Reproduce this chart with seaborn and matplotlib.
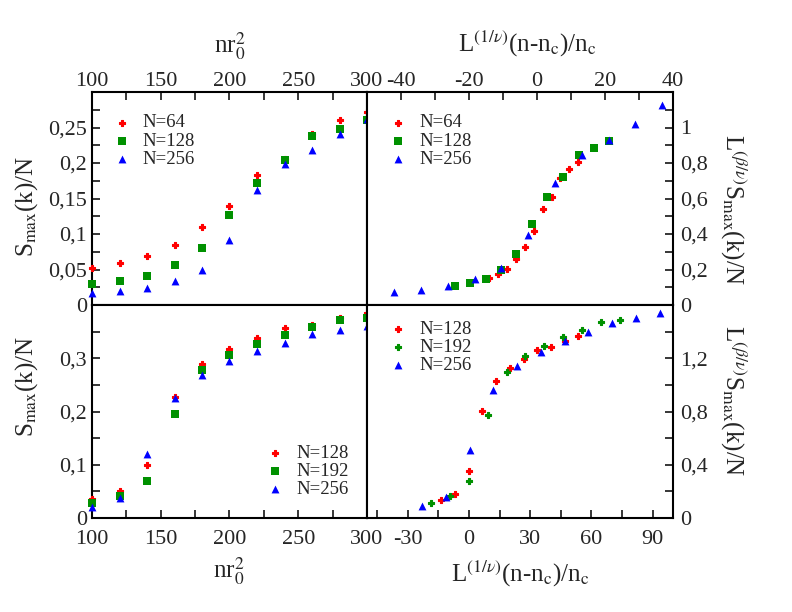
import numpy as np
import pandas as pd
import seaborn as sns
import matplotlib
matplotlib.use("Agg")
import matplotlib.pyplot as plt
from matplotlib.ticker import MultipleLocator, FixedLocator, FuncFormatter

# ------------------------------
# data
# ------------------------------
nr2 = [100, 120, 140, 160, 180, 200, 220, 240, 260, 280, 300]

# top left: S_max(k)/N vs nr0^2
tl_n64 = [0.0515, 0.0585, 0.0688, 0.0852, 0.1096, 0.140, 0.1836, 0.206, 0.241, 0.260, 0.2715]
tl_n128 = [0.029, 0.0337, 0.0407, 0.0557, 0.0796, 0.1274, 0.1723, 0.204, 0.2374, 0.248, 0.260]
tl_n256 = [0.0164, 0.020, 0.0243, 0.0337, 0.049, 0.092, 0.1615, 0.198, 0.2187, 0.2406, 0.262]

# top right: scaled collapse
tr_x64 = [-14.0, -11.4, -8.7, -6.2, -3.4, -0.9, 1.8, 4.3, 6.8, 9.5, 12.1]
tr_y64 = [0.152, 0.176, 0.202, 0.258, 0.325, 0.415, 0.543, 0.610, 0.716, 0.766, 0.807]
tr_x128 = [-24.1, -19.6, -15.0, -10.5, -6.1, -1.4, 3.0, 7.7, 12.3, 16.9, 21.3]
tr_y128 = [0.105, 0.122, 0.148, 0.198, 0.288, 0.455, 0.610, 0.723, 0.845, 0.884, 0.923]
tr_x256 = [-42.1, -34.1, -26.3, -18.3, -10.5, -2.6, 5.3, 13.1, 21.1, 28.9, 36.8]
tr_y256 = [0.074, 0.087, 0.105, 0.146, 0.208, 0.396, 0.688, 0.845, 0.932, 1.018, 1.124]

# bottom left
bl_n128 = [0.036, 0.051, 0.100, 0.228, 0.290, 0.317, 0.338, 0.356, 0.363, 0.376, 0.385]
bl_n192 = [0.028, 0.042, 0.070, 0.196, 0.277, 0.307, 0.327, 0.344, 0.358, 0.371, 0.375]
bl_n256 = [0.020, 0.038, 0.121, 0.225, 0.268, 0.295, 0.314, 0.329, 0.346, 0.353, 0.360]

# bottom right
br_x128 = [-13.7, -6.7, 0.15, 6.5, 13.4, 20.2, 27.0, 33.5, 40.3, 47.2, 53.6]
br_y128 = [0.137, 0.182, 0.352, 0.802, 1.029, 1.127, 1.192, 1.260, 1.282, 1.329, 1.367]
br_x192 = [-18.6, -9.2, 0.15, 9.5, 18.8, 27.5, 37.0, 46.2, 55.5, 64.9, 74.2]
br_y192 = [0.114, 0.164, 0.277, 0.772, 1.097, 1.217, 1.292, 1.357, 1.412, 1.470, 1.487]
br_x256 = [-23.0, -11.3, 0.3, 11.9, 23.5, 35.1, 47.1, 58.5, 70.2, 81.9, 93.5]
br_y256 = [0.092, 0.159, 0.509, 0.962, 1.139, 1.244, 1.327, 1.394, 1.467, 1.500, 1.537]

# tick labels
nr2_ticks = [100, 150, 200, 250, 300]
tl_yticks = [0, 0.05, 0.1, 0.15, 0.2, 0.25]
tr_xticks = [-40, -20, 0, 20, 40]
tr_yticks = [0, 0.2, 0.4, 0.6, 0.8, 1.0]
bl_yticks = [0, 0.1, 0.2, 0.3]
br_xticks = [-30, 0, 30, 60, 90]
br_yticks = [0, 0.4, 0.8, 1.2]

RED = "#ff0000"
GREEN = "#009100"
BLUE = "#0000ff"

# ------------------------------
# style
# ------------------------------
sns.set_style("ticks")
plt.rcParams["font.family"] = ["Liberation Serif", "DejaVu Serif"]
plt.rcParams["mathtext.fontset"] = "stix"

fig = plt.figure(figsize=(7.92, 6.12), dpi=100)
W, H = 792.0, 612.0
xl, xm, xr = 92 / W, 367 / W, 673 / W
yb, ym, yt = 1 - 518 / H, 1 - 305 / H, 1 - 92 / H

ax_tl = fig.add_axes([xl, ym, xm - xl, yt - ym])
ax_tr = fig.add_axes([xm, ym, xr - xm, yt - ym])
ax_bl = fig.add_axes([xl, yb, xm - xl, ym - yb])
ax_br = fig.add_axes([xm, yb, xr - xm, ym - yb])

comma = FuncFormatter(lambda v, p: f"{v:g}".replace(".", ","))


def pts(ax, x, y, marker, color, label, s):
    # thin edge in the same colour makes the plus look as chunky as the original
    lw = 0.8 if marker == "P" else 0
    sns.scatterplot(x=x, y=y, ax=ax, marker=marker, color=color, s=s,
                    linewidth=lw, edgecolor=color, label=label, clip_on=False, zorder=5)


def style(ax, xt, xminor, yt_, yminor, xside, yside, xlim, ylim):
    ax.set_xlim(*xlim)
    ax.set_ylim(*ylim)
    ax.xaxis.set_major_locator(FixedLocator(xt))
    ax.xaxis.set_minor_locator(MultipleLocator(xminor))
    ax.yaxis.set_major_locator(FixedLocator(yt_))
    ax.yaxis.set_minor_locator(MultipleLocator(yminor))
    ax.xaxis.set_major_formatter(comma)
    ax.yaxis.set_major_formatter(comma)
    for sp in ax.spines.values():
        sp.set_linewidth(1.5)
        sp.set_color("black")
    top = xside == "top"
    right = yside == "right"
    ax.tick_params(axis="x", which="both", direction="in", length=5.5, width=1.3,
                   top=top, bottom=not top, labeltop=top, labelbottom=not top,
                   labelsize=16, pad=1 if top else 9)
    ax.tick_params(axis="y", which="both", direction="in", length=5.5, width=1.3,
                   left=not right, right=right, labelleft=not right, labelright=right,
                   labelsize=16, pad=5 if right else 3.5)
    ax.set_xlabel("")
    ax.set_ylabel("")


def legend(ax, x, y):
    ax.legend(loc="upper left", bbox_to_anchor=(x, y), frameon=False, fontsize=13.5,
              handlelength=1.0, handletextpad=0.6, labelspacing=0.05,
              borderpad=0, borderaxespad=0, markerscale=1.0)


# top left
pts(ax_tl, nr2, tl_n64, "P", RED, "N=64", 24)
pts(ax_tl, nr2, tl_n128, "s", GREEN, "N=128", 26)
pts(ax_tl, nr2, tl_n256, "^", BLUE, "N=256", 32)
style(ax_tl, nr2_ticks, 25, tl_yticks, 0.025, "top", "left", (100, 300), (0, 0.3))
legend(ax_tl, 0.076, 0.895)

# top right
pts(ax_tr, tr_x64, tr_y64, "P", RED, "N=64", 24)
pts(ax_tr, tr_x128, tr_y128, "s", GREEN, "N=128", 26)
pts(ax_tr, tr_x256, tr_y256, "^", BLUE, "N=256", 32)
style(ax_tr, tr_xticks, 10, tr_yticks, 0.1, "top", "right", (-50, 40), (0, 1.2))
legend(ax_tr, 0.072, 0.895)

# bottom left
pts(ax_bl, nr2, bl_n128, "P", RED, "N=128", 24)
pts(ax_bl, nr2, bl_n192, "s", GREEN, "N=192", 26)
pts(ax_bl, nr2, bl_n256, "^", BLUE, "N=256", 32)
style(ax_bl, nr2_ticks, 25, bl_yticks, 0.05, "bottom", "left", (100, 300), (0, 0.4))
legend(ax_bl, 0.633, 0.345)

# bottom right
pts(ax_br, br_x128, br_y128, "P", RED, "N=128", 24)
pts(ax_br, br_x192, br_y192, "P", GREEN, "N=192", 24)
pts(ax_br, br_x256, br_y256, "^", BLUE, "N=256", 32)
style(ax_br, br_xticks, 15, br_yticks, 0.2, "bottom", "right", (-50, 100), (0, 1.6))
legend(ax_br, 0.072, 0.925)

# axis titles
lab_nr = r"nr$_0^2$"
lab_L = r"L$^{(1/\nu)}$(n-n$_\mathrm{c}$)/n$_\mathrm{c}$"
lab_S = r"S$_{\rm max}$(k)/N"
lab_LS = r"L$^{(\beta/\nu)}$S$_{\rm max}$(k)/N"

fig.text(230 / W, 1 - 53 / H, lab_nr, ha="center", va="baseline", fontsize=18)
fig.text(527 / W, 1 - 52 / H, lab_L, ha="center", va="baseline", fontsize=18)
fig.text(229 / W, 1 - 578 / H, lab_nr, ha="center", va="baseline", fontsize=18)
fig.text(520 / W, 1 - 582 / H, lab_L, ha="center", va="baseline", fontsize=18)
fig.text(33 / W, 1 - 206 / H, lab_S, ha="center", va="baseline", rotation=90,
         rotation_mode="anchor", fontsize=18)
fig.text(33 / W, 1 - 386 / H, lab_S, ha="center", va="baseline", rotation=90,
         rotation_mode="anchor", fontsize=18)
fig.text(725 / W, 1 - 210 / H, lab_LS, ha="center", va="baseline", rotation=270,
         rotation_mode="anchor", fontsize=18)
fig.text(725 / W, 1 - 401 / H, lab_LS, ha="center", va="baseline", rotation=270,
         rotation_mode="anchor", fontsize=18)

fig.savefig("out.png", dpi=100)
